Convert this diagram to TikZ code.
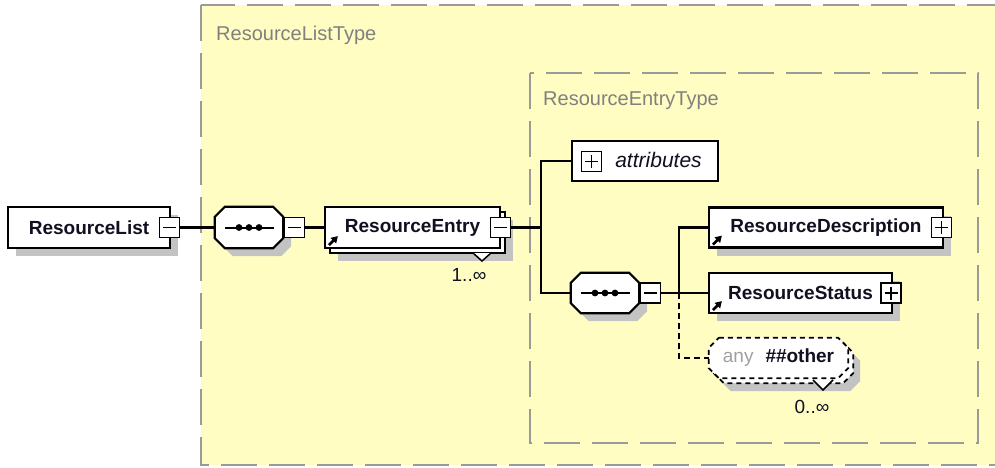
\documentclass[tikz,border=0pt]{standalone}
\usepackage{fontspec}
\setmainfont{Liberation Sans}
\usetikzlibrary{shadows,arrows.meta}
\definecolor{typefill}{HTML}{FFFDC2}
\definecolor{typeline}{HTML}{9A9A9A}
\definecolor{shadowc}{HTML}{C3C3C3}
\definecolor{typetext}{HTML}{808080}
\definecolor{anytext}{HTML}{A0A0A0}
\definecolor{nametext}{HTML}{101020}
\newcommand\refarrow[1]{\draw[refarr] ([shift={(5pt,4pt)}]#1.south west) -- ++(9pt,9pt);}
\newcommand\drawoct[3]{\path[#3] ([xshift=#2]#1.north west) -- ([xshift=-#2]#1.north east) -- ([yshift=-#2]#1.north east) -- ([yshift=#2]#1.south east) -- ([xshift=-#2]#1.south east) -- ([xshift=#2]#1.south west) -- ([yshift=#2]#1.south west) -- ([yshift=-#2]#1.north west) -- cycle;}
\newcommand\seqicon[1]{\draw[line width=2pt] ([xshift=-24pt]#1.center) -- ([xshift=25pt]#1.center);
  \foreach \d in {-10,0,10} \fill[black] ([xshift=\d pt]#1.center) circle (3.4pt);}
\begin{document}
\begin{tikzpicture}[x=1pt,y=-1pt,
  typebox/.style={fill=typefill, draw=typeline, line width=2.2pt, dash pattern=on 36pt off 12pt},
  typelabel/.style={inner sep=0pt, text=typetext, font=\fontsize{20}{23}\selectfont},
  elem/.style={rectangle, draw=black, line width=2.2pt, fill=white, inner sep=0pt,
    font=\fontsize{19}{21}\selectfont\bfseries, text=nametext},
  eshadow/.style={drop shadow={shadow xshift=8pt, shadow yshift=-8pt, fill=shadowc, draw=none, opacity=1}},
  reshadow/.style={drop shadow={shadow xshift=13pt, shadow yshift=-13pt, fill=shadowc, draw=none, opacity=1},
    copy shadow={shadow xshift=5pt, shadow yshift=-5pt}},
  tog/.style={rectangle, draw=black, line width=1.8pt, fill=white, minimum size=20pt, inner sep=0pt},
  minus/.style={tog, path picture={\draw[line width=1.8pt] ([xshift=-6.5pt]path picture bounding box.center) -- ([xshift=6.5pt]path picture bounding box.center);}},
  plus/.style={tog, path picture={\draw[line width=1.8pt] ([xshift=-6.5pt]path picture bounding box.center) -- ([xshift=6.5pt]path picture bounding box.center) ([yshift=-6.5pt]path picture bounding box.center) -- ([yshift=6.5pt]path picture bounding box.center);}},
  holder/.style={rectangle, draw=none, inner sep=0pt},
  octline/.style={draw=black, line width=2.2pt, fill=white},
  octshadow/.style={fill=shadowc, transform canvas={shift={(8pt,-8pt)}}},
  anyline/.style={draw=black, line width=1.8pt, dash pattern=on 5pt off 4pt, fill=white},
  attrbox/.style={rectangle, draw=black, line width=2.2pt, fill=white, inner sep=0pt},
  conn/.style={draw=black, line width=2.2pt},
  dconn/.style={draw=black, line width=2.2pt, dash pattern=on 6pt off 4pt},
  refarr/.style={line width=2.6pt, -{Triangle[length=6.5pt,width=7.5pt]}},
  vmark/.style={draw=black, line width=1.5pt, fill=white},
  mult/.style={inner sep=0pt, font=\fontsize{19}{21}\selectfont, text=nametext}
]
\useasboundingbox (0,0) rectangle (995,467);
\fill[white] (0,0) rectangle (995,467);
\draw[typebox] (201,5) rectangle (1030,465);
\draw[typebox] (530,73) rectangle (978,443);
\node[typelabel, anchor=west] (t1) at (216,35) {ResourceListType};
\node[typelabel, anchor=west] (t2) at (543,101) {ResourceEntryType};

% ResourceList
\node[elem, eshadow, minimum width=162pt, minimum height=41pt] (rl) at (89,227.5) {ResourceList};
\node[minus] (rlm) at (169.5,227.5) {};
% outer sequence
\node[holder, minimum width=68pt, minimum height=41pt] (s1) at (249,227.5) {};
\drawoct{s1}{10pt}{octshadow}
\drawoct{s1}{10pt}{octline}
\seqicon{s1}
\node[minus] (s1m) at (294.5,227.5) {};
% ResourceEntry
\node[elem, reshadow, minimum width=175pt, minimum height=41pt] (re) at (412.5,227.5) {ResourceEntry};
\refarrow{re}
\node[minus] (rem) at (500.5,227.5) {};
\draw[vmark] (473,253) -- (482,261) -- (491,253);
\node[mult] (m1) at (469,275) {1..∞};

% attributes
\coordinate (j1) at (541,227.5);
\node[attrbox, minimum width=146pt, minimum height=40pt] (attr) at (645,161) {};
\node[plus] (attrp) at (591.5,161.5) {};
\node[inner sep=0pt, text=nametext, font=\fontsize{21}{24}\selectfont\itshape] (attrt) at (658.5,160) {attributes};

% inner sequence
\node[holder, minimum width=68pt, minimum height=40pt] (s2) at (605,293) {};
\drawoct{s2}{10pt}{octshadow}
\drawoct{s2}{10pt}{octline}
\seqicon{s2}
\node[minus] (s2m) at (650.5,293) {};
\coordinate (j2) at (679,293);

% children
\node[elem, eshadow, minimum width=234pt, minimum height=40pt] (rd) at (826,227.5) {ResourceDescription};
\refarrow{rd}
\node[plus] (rdp) at (941.5,227.5) {};
\node[elem, eshadow, minimum width=183pt, minimum height=40pt] (rs) at (800.5,293) {ResourceStatus};
\refarrow{rs}
\node[plus] (rsp) at (891,293) {};

% any
\node[holder, minimum width=139pt, minimum height=40pt] (any) at (778.5,358) {};
\drawoct{any}{10pt}{fill=shadowc, transform canvas={shift={(12pt,-13pt)}}}
\drawoct{any}{10pt}{anyline, transform canvas={shift={(5pt,-5pt)}}}
\drawoct{any}{10pt}{anyline}
\node[inner sep=0pt, text=nametext, font=\fontsize{19}{21}\selectfont\bfseries] (anyt) at (any.center)
  {{\mdseries\color{anytext}any}\hspace{12pt}\#\#other};
\draw[vmark] (813,380) -- (823,390) -- (833,380);
\node[mult] (m2) at (812,407) {0..∞};

% connectors
\draw[conn] (rlm.east) -- (s1.west);
\draw[conn] (s1.east) -- (s1m.west);
\draw[conn] (s1m.east) -- (re.west);
\draw[conn] (rem.east) -- (j1);
\draw[conn] (attr.west) -| (j1) |- (s2.west);
\draw[conn] (s2.east) -- (s2m.west);
\draw[conn] (s2m.east) -- (rs.west);
\draw[conn] (rd.west) -| (j2);
\draw[dconn] (j2) |- (any.west);
\end{tikzpicture}
\end{document}
